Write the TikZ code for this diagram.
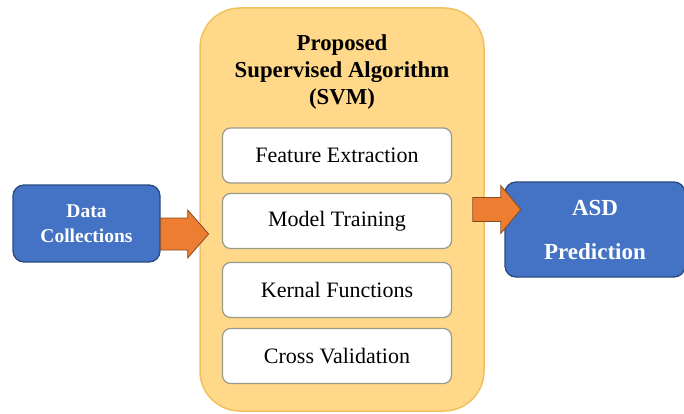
\documentclass[tikz,border=0pt]{standalone}
\usepackage{fontspec}
\setmainfont{LiberationSerif-Regular.ttf}[BoldFont=LiberationSerif-Bold.ttf]
\definecolor{panelfill}{HTML}{FFD88A}
\definecolor{paneledge}{HTML}{F2C061}
\definecolor{bluefill}{HTML}{4472C4}
\definecolor{blueedge}{HTML}{2A4B80}
\definecolor{arrowfill}{HTML}{ED7D31}
\definecolor{arrowedge}{HTML}{8A4A1E}
\definecolor{stepedge}{HTML}{9A9A8A}
\tikzset{
  panel/.style={draw=paneledge, line width=1.5pt, fill=panelfill, rounded corners=40pt,
    minimum width=284pt, minimum height=403pt, inner sep=0pt},
  stepbox/.style={draw=stepedge, line width=1.2pt, fill=white, rounded corners=8pt,
    minimum width=229pt, minimum height=55pt, inner sep=0pt,
    font=\fontsize{22}{26}\selectfont},
  bluebox/.style={draw=blueedge, line width=1.3pt, fill=bluefill, rounded corners=11pt,
    text=white, inner sep=0pt, align=center, font=\bfseries},
  fatarrow/.style={draw=arrowedge, line width=0.8pt, fill=arrowfill, line join=miter},
}
\begin{document}
\begin{tikzpicture}[x=1pt, y=-1pt]
  \useasboundingbox (0,0) rectangle (684,414);
  % container of the algorithm stages
  \node[panel] (algo) at (342,209.5) {};
  \node[align=center, font=\bfseries\fontsize{22.8}{27}\selectfont] (title) at (342,72)
    {Proposed\\Supervised Algorithm\\(SVM)};
  % stages
  \node[stepbox] (fe) at (337,155.5) {Feature Extraction};
  \node[stepbox] (mt) at (337,221) {Model Training};
  \node[stepbox] (kf) at (337,290) {Kernal Functions};
  \node[stepbox] (cv) at (337,356) {Cross Validation};
  % input and output
  \node[bluebox, minimum width=147pt, minimum height=77pt,
    font=\bfseries\fontsize{19.5}{25}\selectfont] (data) at (86.5,223.5) {Data\\Collections};
  \node[bluebox, minimum width=180pt, minimum height=95pt,
    font=\bfseries\fontsize{23}{44}\selectfont] (asd) at (595,229.5) {ASD\\Prediction};
  % block arrows
  \draw[fatarrow] (data.east) ++(0,-5.5) -- ++(27,0) -- ++(0,-8) -- ++(21,24)
    -- ++(-21,24) -- ++(0,-8) -- ++(-27,0) -- cycle;
  \draw[fatarrow] (algo.east) ++(-12,-12) -- ++(28,0) -- ++(0,-12) -- ++(20,24)
    -- ++(-20,24) -- ++(0,-12) -- ++(-28,0) -- cycle;
\end{tikzpicture}
\end{document}
